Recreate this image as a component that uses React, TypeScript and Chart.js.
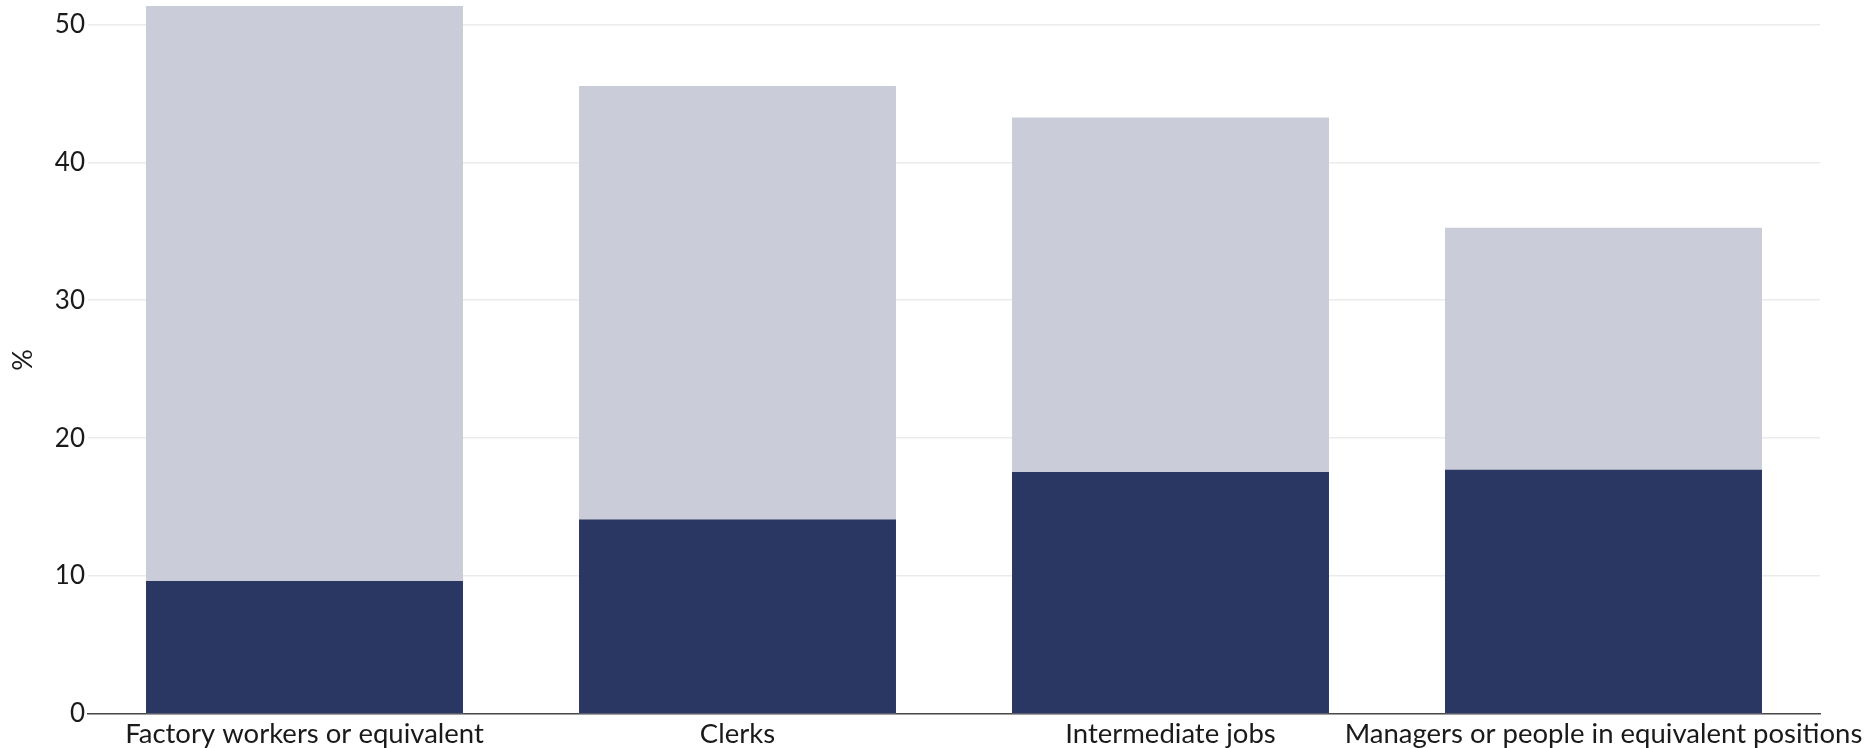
import React, { useEffect, useRef } from "react";
import { Chart, registerables } from "chart.js";

Chart.register(...registerables);

const categories = [
  "Factory workers or equivalent",
  "Clerks",
  "Intermediate jobs",
  "Managers or people in equivalent positions",
];
const totalValues = [51.33, 45.53, 43.24, 35.25];
const darkValues = [9.64, 14.1, 17.55, 17.7];
const yTicks = [0, 10, 20, 30, 40, 50];

const FONT = "Lato, 'Noto Sans', sans-serif";

export default function App() {
  const ref = useRef<HTMLCanvasElement | null>(null);

  useEffect(() => {
    document.body.style.margin = "0";
    const canvas = ref.current;
    if (!canvas) return;
    const chart = new Chart(canvas, {
      type: "bar",
      data: {
        labels: categories,
        datasets: [
          {
            label: "Dark",
            data: darkValues,
            backgroundColor: "#2a3763",
            grouped: false,
            order: 0,
            categoryPercentage: 1,
            barPercentage: 0.732,
          },
          {
            label: "Total",
            data: totalValues,
            backgroundColor: "#cacdd9",
            grouped: false,
            order: 1,
            categoryPercentage: 1,
            barPercentage: 0.732,
          },
        ],
      },
      options: {
        animation: false,
        responsive: false,
        maintainAspectRatio: false,
        layout: { padding: { top: 6, left: 0, right: 0, bottom: 0 } },
        plugins: {
          legend: { display: false },
          tooltip: { enabled: false },
        },
        scales: {
          x: {
            grid: { display: false, drawTicks: false },
            border: { display: true, color: "#4a4a4a", width: 1.5 },
            afterFit: (scale: any) => {
              scale.height = 34;
              scale.paddingLeft = 0;
              scale.paddingRight = 47;
            },
            ticks: {
              color: "#1a1a1a",
              font: { family: FONT, size: 27.5 },
              padding: 4,
              maxRotation: 0,
              autoSkip: false,
            },
          },
          y: {
            min: 0,
            max: 51.33,
            afterBuildTicks: (scale: any) => {
              scale.ticks = yTicks.map((v) => ({ value: v }));
            },
            afterFit: (scale: any) => {
              scale.width = 88;
              scale.paddingTop = 0;
              scale.paddingBottom = 0;
            },
            grid: {
              color: "#ebebeb",
              lineWidth: 1.5,
              drawTicks: false,
            },
            border: { display: false },
            ticks: {
              color: "#1a1a1a",
              font: { family: FONT, size: 26 },
              padding: 3,
            },
            title: {
              display: true,
              text: "%",
              color: "#1a1a1a",
              font: { family: FONT, size: 27 },
              padding: { top: 7, bottom: 0 },
            },
          },
        },
      },
    });
    return () => chart.destroy();
  }, []);

  return (
    <div style={{ width: 1867, height: 748 }}>
      <canvas ref={ref} width={1867} height={748} style={{ display: "block", width: 1867, height: 748 }} />
    </div>
  );
}
